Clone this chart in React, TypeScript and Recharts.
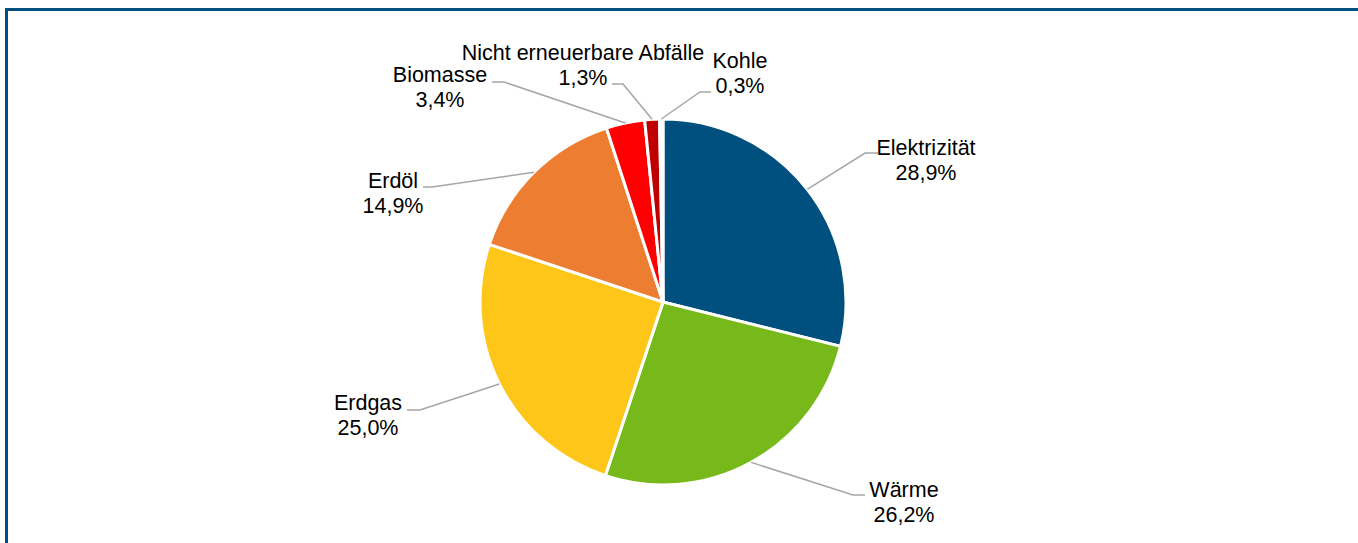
import React from 'react';
import { PieChart, Pie, Cell } from 'recharts';

// energy carrier shares (%)
const categories = ['Elektrizität', 'Wärme', 'Erdgas', 'Erdöl', 'Biomasse', 'Nicht erneuerbare Abfälle', 'Kohle'];
const shares = [28.9, 26.2, 25.0, 14.9, 3.4, 1.3, 0.3];
const colors = ['#00507f', '#77b81b', '#ffc61a', '#ed7d31', '#ff0000', '#c00000', '#ffffff'];

// label placement relative to pie centre: text x, first baseline, elbow x/y, end of horizontal
const labelLayout = [
  { tx: 263, ty: -147, ex: 202, ey: -149, hx: 215 },
  { tx: 241, ty: 195, ex: 190, ey: 193, hx: 202 },
  { tx: -295, ty: 108, ex: -243, ey: 108, hx: -256 },
  { tx: -270, ty: -114, ex: -231, ey: -115, hx: -240 },
  { tx: -223, ty: -220, ex: -159, ey: -220, hx: -171 },
  { tx: -80, ty: -242, ex: -40, ey: -218, hx: -51 },
  { tx: 77, ty: -234, ex: 37, ey: -210, hx: 48 },
];

const data = categories.map((name, i) => ({ name, value: shares[i] }));

const RAD = Math.PI / 180;
const FONT = '"Liberation Sans", Arial, sans-serif';

const renderLabel = (props: any) => {
  const { cx, cy, midAngle, outerRadius, index, name, value } = props;
  const lay = labelLayout[index];
  const sx = cx + outerRadius * Math.cos(-midAngle * RAD);
  const sy = cy + outerRadius * Math.sin(-midAngle * RAD);
  const pct = value.toFixed(1).replace('.', ',') + '%';
  return (
    <g>
      <polyline
        points={`${sx},${sy} ${cx + lay.ex},${cy + lay.ey} ${cx + lay.hx},${cy + lay.ey}`}
        fill="none"
        stroke="#a6a6a6"
        strokeWidth={1.5}
      />
      <text x={cx + lay.tx} y={cy + lay.ty} textAnchor="middle" fill="#000" fontSize={21.5} fontFamily={FONT}>
        {name}
      </text>
      <text x={cx + lay.tx} y={cy + lay.ty + 25} textAnchor="middle" fill="#000" fontSize={21.5} fontFamily={FONT}>
        {pct}
      </text>
    </g>
  );
};

export default function App() {
  return (
    <div style={{ position: 'absolute', left: 0, top: 0, width: 1358, height: 543, background: '#fff', overflow: 'hidden' }}>
      <div
        style={{
          position: 'absolute',
          left: 5,
          top: 8,
          width: 1360,
          height: 600,
          borderTop: '3px solid #00507f',
          borderLeft: '3px solid #00507f',
        }}
      />
      <div style={{ position: 'absolute', left: 0, top: 0 }}>
        <PieChart width={1358} height={543} margin={{ top: 0, right: 0, bottom: 0, left: 0 }}>
          <Pie
            data={data}
            dataKey="value"
            nameKey="name"
            cx={663}
            cy={302}
            outerRadius={183}
            startAngle={90}
            endAngle={-270}
            stroke="#ffffff"
            strokeWidth={3}
            label={renderLabel}
            labelLine={false}
            isAnimationActive={false}
          >
            {data.map((d, i) => (
              <Cell key={d.name} fill={colors[i]} />
            ))}
          </Pie>
        </PieChart>
      </div>
    </div>
  );
}
